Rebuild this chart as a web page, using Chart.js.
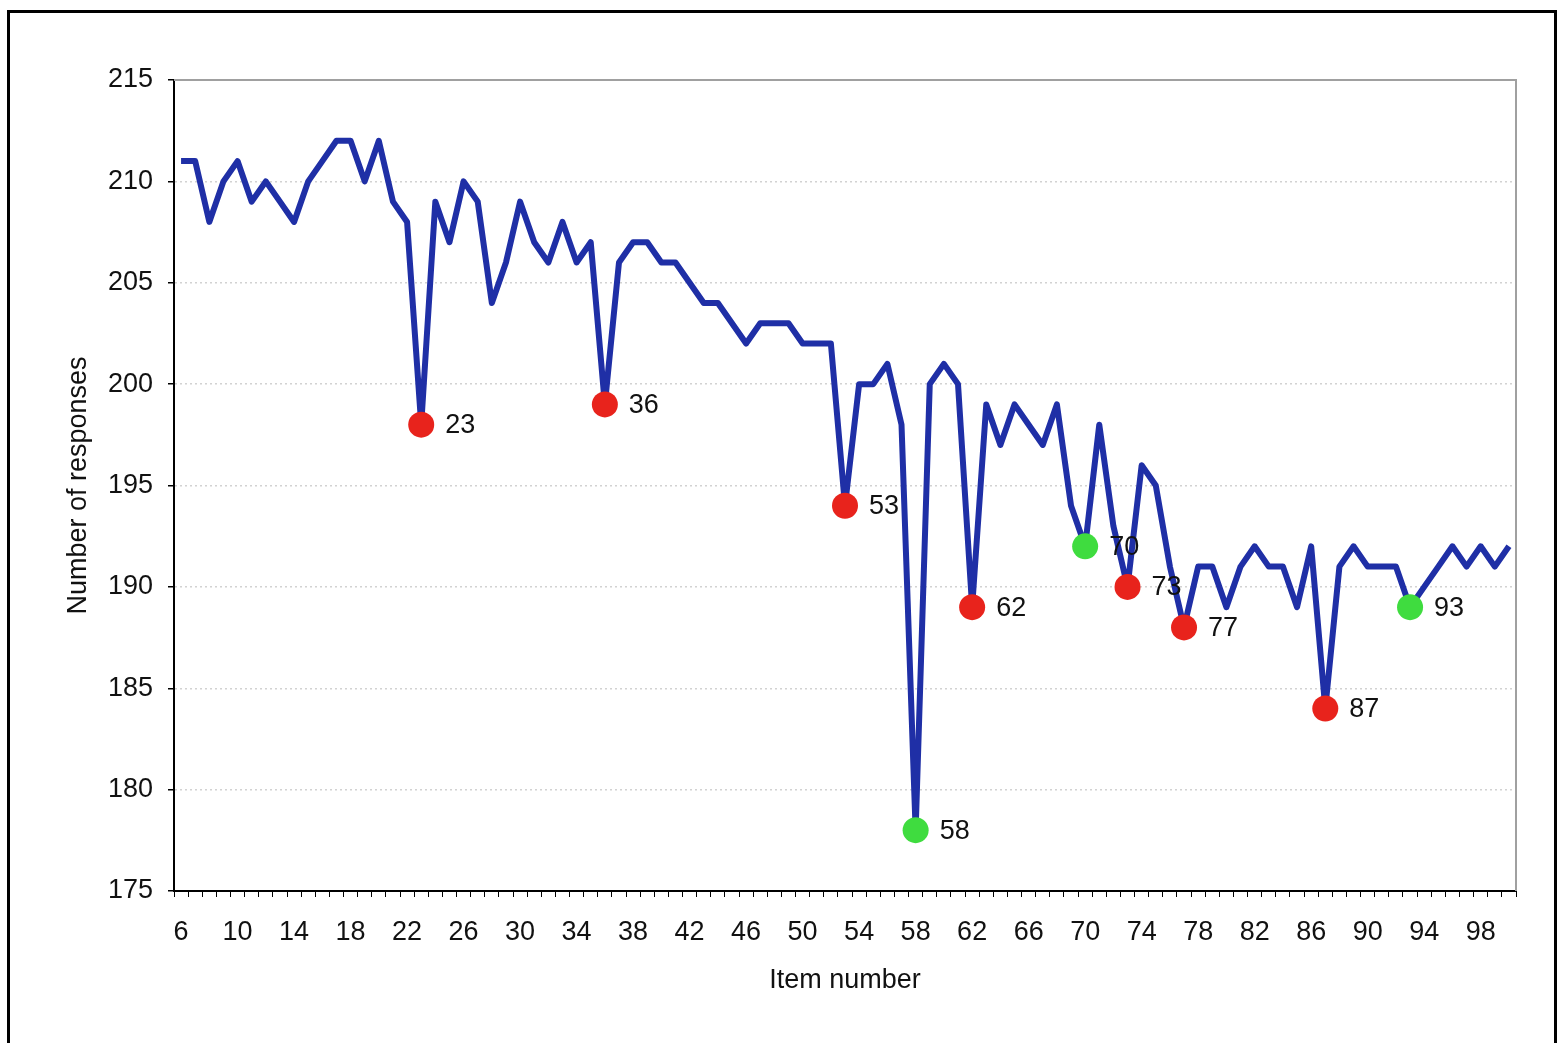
<!DOCTYPE html>
<html>
<head>
<meta charset="utf-8">
<script src="https://cdn.jsdelivr.net/npm/chart.js@4"></script>
<style>
  html, body { margin: 0; padding: 0; background: #fff; }
  #wrap { position: relative; width: 1561px; height: 1043px; overflow: hidden; }
  #frame {
    position: absolute; left: 7px; top: 10px; width: 1544px; height: 1100px;
    border: 3px solid #000; pointer-events: none;
  }
</style>
</head>
<body>
<div id="wrap">
  <canvas id="chart" width="1561" height="1043"></canvas>
  <div id="frame"></div>
</div>
<script>
// item numbers on the x axis
const items = [6, 7, 8, 9, 10, 11, 12, 13, 14, 15, 16, 17, 18, 19, 20, 21, 22, 23, 24, 25,
  26, 27, 28, 29, 30, 31, 32, 33, 34, 35, 36, 37, 38, 39, 40, 41, 42, 43, 44, 45,
  46, 47, 48, 49, 50, 51, 52, 53, 54, 55, 56, 57, 58, 59, 60, 61, 62, 63, 64, 65,
  66, 67, 68, 69, 70, 71, 72, 73, 74, 75, 76, 77, 78, 79, 80, 81, 82, 83, 84, 85,
  86, 87, 88, 89, 90, 91, 92, 93, 94, 95, 96, 97, 98, 99, 100];

// number of responses per item
const responses = [211, 211, 208, 210, 211, 209, 210, 209, 208, 210, 211, 212, 212, 210, 212, 209, 208, 198, 209, 207,
  210, 209, 204, 206, 209, 207, 206, 208, 206, 207, 199, 206, 207, 207, 206, 206, 205, 204, 204, 203,
  202, 203, 203, 203, 202, 202, 202, 194, 200, 200, 201, 198, 178, 200, 201, 200, 189, 199, 197, 199,
  198, 197, 199, 194, 192, 198, 193, 190, 196, 195, 191, 188, 191, 191, 189, 191, 192, 191, 191, 189,
  192, 184, 191, 192, 191, 191, 191, 189, 190, 191, 192, 191, 192, 191, 192];

// marked items
const redItems = [23, 36, 53, 62, 73, 77, 87];
const greenItems = [58, 70, 93];

const yTicks = [175, 180, 185, 190, 195, 200, 205, 210, 215];

const RED = '#e8231c';
const GREEN = '#3fdc3f';
const FONT = '"Liberation Sans", Arial, sans-serif';

const pointRadius = items.map(it => (redItems.includes(it) || greenItems.includes(it)) ? 13 : 0);
const pointColors = items.map(it => greenItems.includes(it) ? GREEN : RED);

// draws the item number next to each marked point, plus the grey plot frame
const markLabels = {
    id: 'markLabels',
    beforeDatasetsDraw(chart) {
        const { ctx, chartArea } = chart;
        ctx.save();
        ctx.strokeStyle = '#a0a0a0';
        ctx.lineWidth = 2;
        ctx.beginPath();
        ctx.moveTo(chartArea.left, chartArea.top);
        ctx.lineTo(chartArea.right, chartArea.top);
        ctx.lineTo(chartArea.right, chartArea.bottom);
        ctx.stroke();
        ctx.restore();
    },
    afterDatasetsDraw(chart) {
        const { ctx } = chart;
        const meta = chart.getDatasetMeta(0);
        ctx.save();
        ctx.font = '27px ' + FONT;
        ctx.fillStyle = '#111';
        ctx.textAlign = 'left';
        ctx.textBaseline = 'middle';
        items.forEach((it, i) => {
            if (redItems.includes(it) || greenItems.includes(it)) {
                const p = meta.data[i];
                ctx.fillText(String(it), p.x + 24, p.y + 1);
            }
        });
        ctx.restore();
    }
};

const ctx = document.getElementById('chart').getContext('2d');
new Chart(ctx, {
    type: 'line',
    data: {
        labels: items.map(String),
        datasets: [{
            data: responses,
            borderColor: '#1f2fa6',
            borderWidth: 6,
            borderJoinStyle: 'round',
            tension: 0,
            fill: false,
            pointRadius: pointRadius,
            pointHoverRadius: pointRadius,
            pointBackgroundColor: pointColors,
            pointBorderWidth: 0
        }]
    },
    options: {
        responsive: false,
        animation: false,
        layout: { padding: { left: 0, top: 80, right: 45, bottom: 0 } },
        plugins: {
            legend: { display: false },
            tooltip: { enabled: false }
        },
        scales: {
            x: {
                type: 'category',
                offset: true,
                afterFit: (scale) => { scale.height = 152; },
                grid: {
                    offset: true,
                    drawOnChartArea: false,
                    drawTicks: true,
                    tickLength: 6,
                    tickColor: '#000',
                    tickWidth: 1
                },
                border: { display: true, color: '#000', width: 2 },
                ticks: {
                    autoSkip: false,
                    maxRotation: 0,
                    padding: 19,
                    color: '#111',
                    font: { family: FONT, size: 27 },
                    callback: function (value, index) {
                        return index % 4 === 0 ? this.getLabelForValue(value) : '';
                    }
                },
                title: {
                    display: true,
                    text: 'Item number',
                    color: '#111',
                    font: { family: FONT, size: 27 },
                    padding: { top: 0, bottom: 46 }
                }
            },
            y: {
                min: yTicks[0],
                max: yTicks[yTicks.length - 1],
                afterFit: (scale) => { scale.width = 174; },
                afterBuildTicks: (scale) => { scale.ticks = yTicks.map(v => ({ value: v })); },
                grid: {
                    drawTicks: true,
                    tickLength: 6,
                    tickColor: '#000',
                    color: (c) => (c.tick && (c.tick.value === yTicks[0] || c.tick.value === yTicks[yTicks.length - 1])) ? 'rgba(0,0,0,0)' : '#d2d2d2',
                    lineWidth: 1.5
                },
                border: { display: true, color: '#000', width: 2, dash: [2, 3] },
                ticks: {
                    padding: 15,
                    color: '#111',
                    font: { family: FONT, size: 27 }
                },
                title: {
                    display: true,
                    text: 'Number of responses',
                    color: '#111',
                    font: { family: FONT, size: 27 },
                    padding: { top: 62, bottom: 0 }
                }
            }
        }
    },
    plugins: [markLabels]
});
</script>
</body>
</html>
